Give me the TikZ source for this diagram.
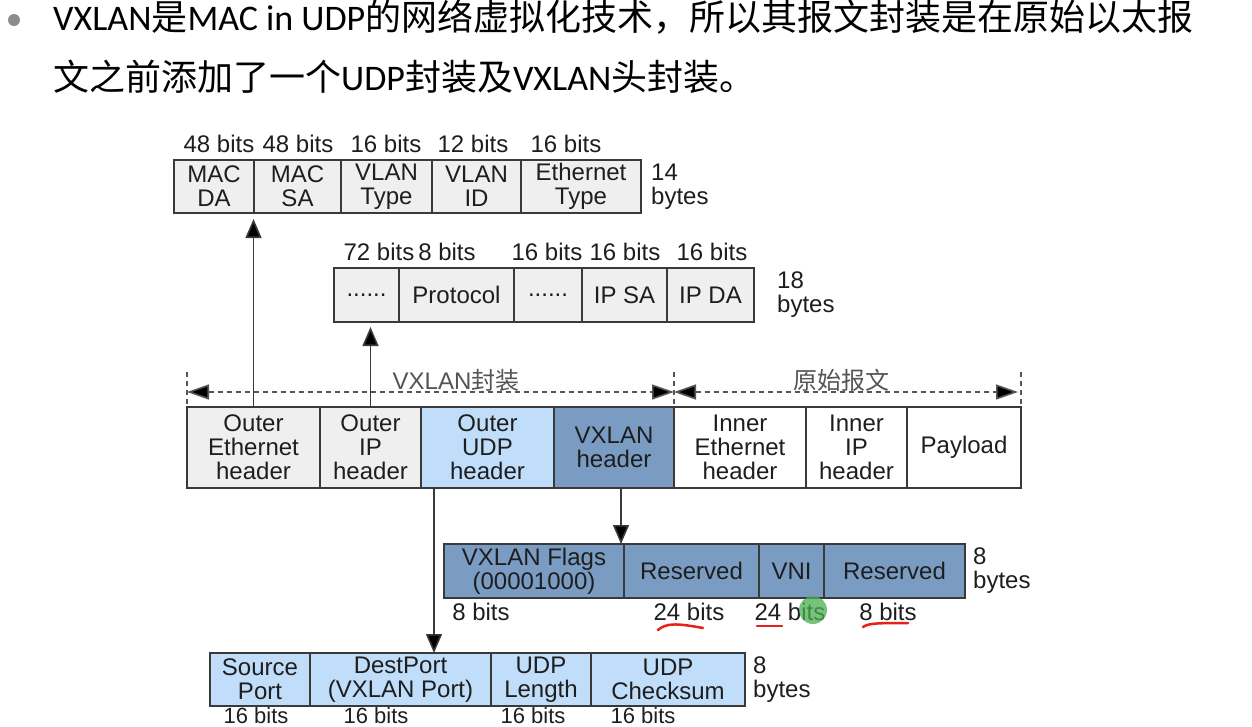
\documentclass[tikz,border=0pt]{standalone}
\usepackage{fontspec}
\setmainfont{Liberation Sans}
\newfontfamily\cjk{Noto Sans CJK SC}
\newfontfamily\lat{Carlito}
\usetikzlibrary{arrows.meta,calc}
\definecolor{bordercol}{HTML}{3A3A3A}
\definecolor{textcol}{HTML}{1E1E1E}
\definecolor{grayfill}{HTML}{EFEFEF}
\definecolor{lightblue}{HTML}{C0DEFA}
\definecolor{darkblue}{HTML}{7A9CC3}
\definecolor{dashcol}{HTML}{555555}
\definecolor{bulletcol}{HTML}{8C8C8C}
\definecolor{markred}{HTML}{E8201A}
\definecolor{markgreen}{HTML}{4CAF50}
\begin{document}
\begin{tikzpicture}[x=1pt,y=-1pt,
  cell/.style={draw=bordercol, line width=1.6pt, inner sep=0pt, outer sep=0pt,
    align=center, font=\fontsize{24}{24}\selectfont, text=textcol},
  lbl/.style={inner sep=0pt, font=\fontsize{24}{24}\selectfont, text=textcol},
  smalllbl/.style={inner sep=0pt, font=\fontsize{22}{22}\selectfont, text=textcol},
  sidelbl/.style={inner sep=0pt, anchor=west, align=left, font=\fontsize{24}{24}\selectfont, text=textcol},
  conn/.style={draw=bordercol, line width=1.6pt, -{Triangle[length=19pt,width=16pt,fill=black]}},
  measure/.style={draw=dashcol, line width=1.6pt, dash pattern=on 5pt off 4pt},
  measuretip/.style={measure, {Triangle[length=22pt,width=15pt,fill=black]}-{Triangle[length=22pt,width=15pt,fill=black]}},
  redmark/.style={draw=markred, line width=2.5pt, line cap=round}
]
\useasboundingbox (0,0) rectangle (1252,726);
\fill[white] (0,0) rectangle (1252,726);

% title
\fill[bulletcol] (14,20) circle (6);
\node[anchor=base west, inner sep=0pt, font=\fontsize{36}{36}\selectfont, text=black] (t1) at (53,30)
  {\lat VXLAN\cjk 是\lat MAC in UDP\cjk 的网络虚拟化技术，所以其报文封装是在原始以太报};
\node[anchor=base west, inner sep=0pt, font=\fontsize{36}{36}\selectfont, text=black] (t2) at (53,90)
  {\cjk 文之前添加了一个\lat UDP\cjk 封装及\lat VXLAN\cjk 头封装。};

% Row 1: Ethernet header
\node[cell, fill=grayfill, minimum width=80pt, minimum height=53pt] (mda) at (214,186.5) {MAC\\DA};
\node[cell, fill=grayfill, minimum width=87pt, minimum height=53pt] (msa) at (297.5,186.5) {MAC\\SA};
\node[cell, fill=grayfill, minimum width=91pt, minimum height=53pt] (vt) at (386.5,186.5) {VLAN\\Type};
\node[cell, fill=grayfill, minimum width=89pt, minimum height=53pt] (vid) at (476.5,186.5) {VLAN\\ID};
\node[cell, fill=grayfill, minimum width=120pt, minimum height=53pt] (et) at (581,186.5) {Ethernet\\Type};
\node[lbl, anchor=base] (b11) at (219,152) {48 bits};
\node[lbl, anchor=base] (b12) at (298,152) {48 bits};
\node[lbl, anchor=base] (b13) at (386,152) {16 bits};
\node[lbl, anchor=base] (b14) at (473,152) {12 bits};
\node[lbl, anchor=base] (b15) at (566,152) {16 bits};
\node[sidelbl] (s1) at (651,186.5) {14\\bytes};

% Row 2: IP header
\node[cell, fill=grayfill, minimum width=65pt, minimum height=54pt] (d1) at (366.5,295) {......};
\node[cell, fill=grayfill, minimum width=115pt, minimum height=54pt] (pr) at (456.5,295) {Protocol};
\node[cell, fill=grayfill, minimum width=68pt, minimum height=54pt] (d2) at (548,295) {......};
\node[cell, fill=grayfill, minimum width=85pt, minimum height=54pt] (ipsa) at (624.5,295) {IP SA};
\node[cell, fill=grayfill, minimum width=87pt, minimum height=54pt] (ipda) at (710.5,295) {IP DA};
\node[lbl, anchor=base] (b21) at (379,260) {72 bits};
\node[lbl, anchor=base] (b22) at (447,260) {8 bits};
\node[lbl, anchor=base] (b23) at (547,260) {16 bits};
\node[lbl, anchor=base] (b24) at (625,260) {16 bits};
\node[lbl, anchor=base] (b25) at (712,260) {16 bits};
\node[sidelbl] (s2) at (777,295) {18\\bytes};

% Main row
\node[cell, fill=grayfill, minimum width=133pt, minimum height=81pt] (oe) at (253.5,447.5) {Outer\\Ethernet\\header};
\node[cell, fill=grayfill, minimum width=101pt, minimum height=81pt] (oip) at (370.5,447.5) {Outer\\IP\\header};
\node[cell, fill=lightblue, minimum width=133pt, minimum height=81pt] (oudp) at (487.5,447.5) {Outer\\UDP\\header};
\node[cell, fill=darkblue, minimum width=120pt, minimum height=81pt] (vx) at (614,447.5) {VXLAN\\header};
\node[cell, fill=white, minimum width=132pt, minimum height=81pt] (ie) at (740,447.5) {Inner\\Ethernet\\header};
\node[cell, fill=white, minimum width=101pt, minimum height=81pt] (iip) at (856.5,447.5) {Inner\\IP\\header};
\node[cell, fill=white, minimum width=114pt, minimum height=81pt] (pl) at (964,447.5) {Payload};

% measure lines
\draw[measure] ($(oe.north west)+(0,-35)$) -- (oe.north west);
\draw[measure] ($(vx.north east)+(0,-35)$) -- (vx.north east);
\draw[measure] ($(pl.north east)+(0,-35)$) -- (pl.north east);
\draw[measuretip] ($(oe.north west)+(0,-15)$) -- ($(vx.north east)+(0,-15)$);
\draw[measuretip] ($(vx.north east)+(0,-15)$) -- ($(pl.north east)+(-3,-15)$);
\node[lbl, text=dashcol] (m1) at (456,380) {VXLAN{\cjk 封装}};
\node[lbl, text=dashcol] (m2) at (841,380) {\cjk 原始报文};

% VXLAN header row
\node[cell, fill=darkblue, minimum width=180pt, minimum height=54pt] (fl) at (534,571) {VXLAN Flags\\(00001000)};
\node[cell, fill=darkblue, minimum width=135pt, minimum height=54pt] (r1) at (691.5,571) {Reserved};
\node[cell, fill=darkblue, minimum width=65pt, minimum height=54pt] (vni) at (791.5,571) {VNI};
\node[cell, fill=darkblue, minimum width=141pt, minimum height=54pt] (r2) at (894.5,571) {Reserved};
\node[lbl, anchor=base] (b31) at (481,620) {8 bits};
\node[lbl, anchor=base] (b32) at (689,620) {24 bits};
\node[lbl, anchor=base] (b33) at (790,620) {24 bits};
\node[lbl, anchor=base] (b34) at (888,620) {8 bits};
\node[sidelbl] (s3) at (973,571) {8\\bytes};

% UDP header row
\node[cell, fill=lightblue, minimum width=100pt, minimum height=53pt] (sp) at (260,679.5) {Source\\Port};
\node[cell, fill=lightblue, minimum width=181pt, minimum height=53pt] (dp) at (400.5,679.5) {DestPort\\(VXLAN Port)};
\node[cell, fill=lightblue, minimum width=100pt, minimum height=53pt] (ul) at (541,679.5) {UDP\\Length};
\node[cell, fill=lightblue, minimum width=154pt, minimum height=53pt] (uc) at (668,679.5) {UDP\\Checksum};
\node[smalllbl, anchor=base] (b41) at (256,723.5) {16 bits};
\node[smalllbl, anchor=base] (b42) at (376,723.5) {16 bits};
\node[smalllbl, anchor=base] (b43) at (533,723.5) {16 bits};
\node[smalllbl, anchor=base] (b44) at (643,723.5) {16 bits};
\node[sidelbl] (s4) at (753,679.5) {8\\bytes};

% connectors
\draw[conn] (oe.north) -- ($(oe.north |- mda.south)+(0,6)$);
\draw[conn] (oip.north) -- ($(oip.north |- d1.south)+(0,5)$);
\coordinate (va) at ($(vx.south west)+(67,0)$);
\draw[conn] (va) -- (va |- fl.north);
\coordinate (ua) at ($(oudp.south west)+(13,0)$);
\draw[conn] (ua) -- (ua |- dp.north);

% hand annotations
\draw[redmark] (658,630) .. controls (666,623) and (676,623) .. (703,628);
\draw[redmark] (757,626) -- (782,626);
\draw[redmark] (863,627) .. controls (868,623) and (880,623) .. (908,623);
\fill[markgreen, opacity=0.75] (813,610) circle (14);
\end{tikzpicture}
\end{document}
